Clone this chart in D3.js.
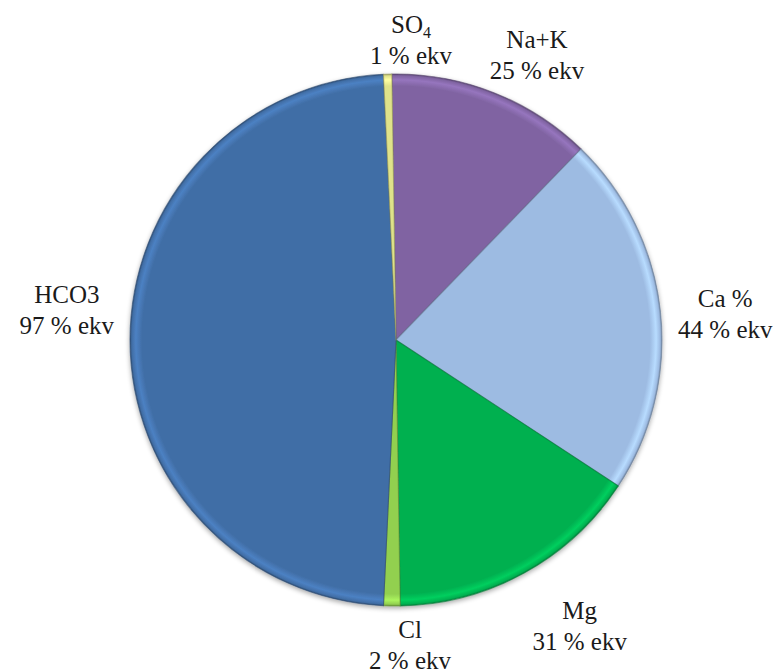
<!DOCTYPE html>
<html>
<head>
<meta charset="utf-8">
<script src="https://cdn.jsdelivr.net/npm/d3@7"></script>
<style>
  html, body { margin: 0; padding: 0; background: #ffffff; }
  svg { display: block; }
</style>
</head>
<body>
<svg id="chart" width="781" height="670"></svg>
<script>
// Ion shares (% ekv): cations Na+K, Ca, Mg; anions Cl, HCO3, SO4
const categories = ["Na+K", "Ca %", "Mg", "Cl", "HCO3", "SO4"];
const values = [25, 44, 31, 2, 97, 1];
const colors = ["#8064a2", "#9dbbe2", "#00b050", "#92d050", "#416ea6", "#dfe28a"];
const unitText = "% ekv";

// layout
const cx = 396, cy = 340, R = 266;
const startAngle = -0.9 * Math.PI / 180;
const labelGap = 10;
const fontFamily = "'Liberation Serif', Tinos, 'Times New Roman', Times, monospace";
const fontSize = 25, lineGap = 31;
// fine adjustment of each label block relative to its computed anchor
const labelNudge = {
  "Na+K": [22, -5], "Ca %": [8, 8], "Mg": [28, 24],
  "Cl": [19, 6], "HCO3": [-6, -29], "SO4": [25, 1]
};

const svg = d3.select("#chart");
const defs = svg.append("defs");

const data = categories.map((c, i) => ({ cat: c, value: values[i], color: colors[i], i }));

const pie = d3.pie().value(d => d.value).sort(null)
  .startAngle(startAngle).endAngle(startAngle + 2 * Math.PI);
const arcs = pie(data);
const arc = d3.arc().innerRadius(0).outerRadius(R);

// soft shadow beneath the pie
const shadow = defs.append("filter").attr("id", "pieShadow")
  .attr("x", "-10%").attr("y", "-10%").attr("width", "120%").attr("height", "120%");
shadow.append("feGaussianBlur").attr("in", "SourceAlpha").attr("stdDeviation", 2.5).attr("result", "b");
shadow.append("feOffset").attr("in", "b").attr("dx", 0).attr("dy", 2).attr("result", "o");
shadow.append("feComponentTransfer").attr("in", "o").attr("result", "s")
  .append("feFuncA").attr("type", "linear").attr("slope", 0.35);
const merge = shadow.append("feMerge");
merge.append("feMergeNode").attr("in", "s");
merge.append("feMergeNode").attr("in", "SourceGraphic");

// bevelled rim: a lighter band just inside the edge, then a darker outline
data.forEach(d => {
  const base = d3.color(d.color);
  const light = base.brighter(0.45);
  const dark = base.darker(0.9);
  const g = defs.append("radialGradient").attr("id", "rim" + d.i)
    .attr("gradientUnits", "userSpaceOnUse")
    .attr("cx", 0).attr("cy", 0).attr("r", R);
  g.append("stop").attr("offset", "0").attr("stop-color", base.formatHex());
  g.append("stop").attr("offset", "0.955").attr("stop-color", base.formatHex());
  g.append("stop").attr("offset", "0.978").attr("stop-color", light.formatHex());
  g.append("stop").attr("offset", "0.993").attr("stop-color", base.formatHex());
  g.append("stop").attr("offset", "1").attr("stop-color", dark.formatHex());
});

const gPie = svg.append("g")
  .attr("transform", `translate(${cx},${cy})`)
  .attr("filter", "url(#pieShadow)");

gPie.selectAll("path.slice")
  .data(arcs)
  .join("path")
  .attr("class", "slice")
  .attr("d", arc)
  .attr("fill", d => `url(#rim${d.data.i})`)
  .attr("stroke", d => d3.color(d.data.color).darker(1.1).formatHex())
  .attr("stroke-opacity", 0.6)
  .attr("stroke-width", 1.1)
  .attr("stroke-linejoin", "round");

// labels
const gLab = svg.append("g").attr("transform", `translate(${cx},${cy})`);

arcs.forEach(a => {
  const d = a.data;
  const mid = (a.startAngle + a.endAngle) / 2;
  const s = Math.sin(mid), c = Math.cos(mid);

  const grp = gLab.append("g");
  const t1 = grp.append("text").attr("text-anchor", "middle")
    .attr("font-family", fontFamily).style("font-family", fontFamily)
    .attr("fill", "#1a1a1a")
    .attr("font-size", fontSize).attr("y", -8);
  if (d.cat === "SO4") {
    t1.append("tspan").text("SO");
    t1.append("tspan").text("4").attr("font-size", 16).attr("dy", 5);
  } else {
    t1.text(d.cat);
  }
  const t2 = grp.append("text").attr("text-anchor", "middle")
    .attr("font-family", fontFamily).style("font-family", fontFamily)
    .attr("fill", "#1a1a1a")
    .attr("font-size", fontSize).attr("y", -8 + lineGap)
    .text(`${d.value} ${unitText}`);

  const w = Math.max(t1.node().getComputedTextLength(), t2.node().getComputedTextLength());
  const h = 48;
  const px = s * (R + labelGap), py = -c * (R + labelGap);
  const nx = labelNudge[d.cat] ? labelNudge[d.cat][0] : 0;
  const ny = labelNudge[d.cat] ? labelNudge[d.cat][1] : 0;
  const lx = px + s * w / 2 + nx;
  const ly = py - c * h / 2 + ny;
  grp.attr("transform", `translate(${lx},${ly})`);
});
</script>
</body>
</html>
